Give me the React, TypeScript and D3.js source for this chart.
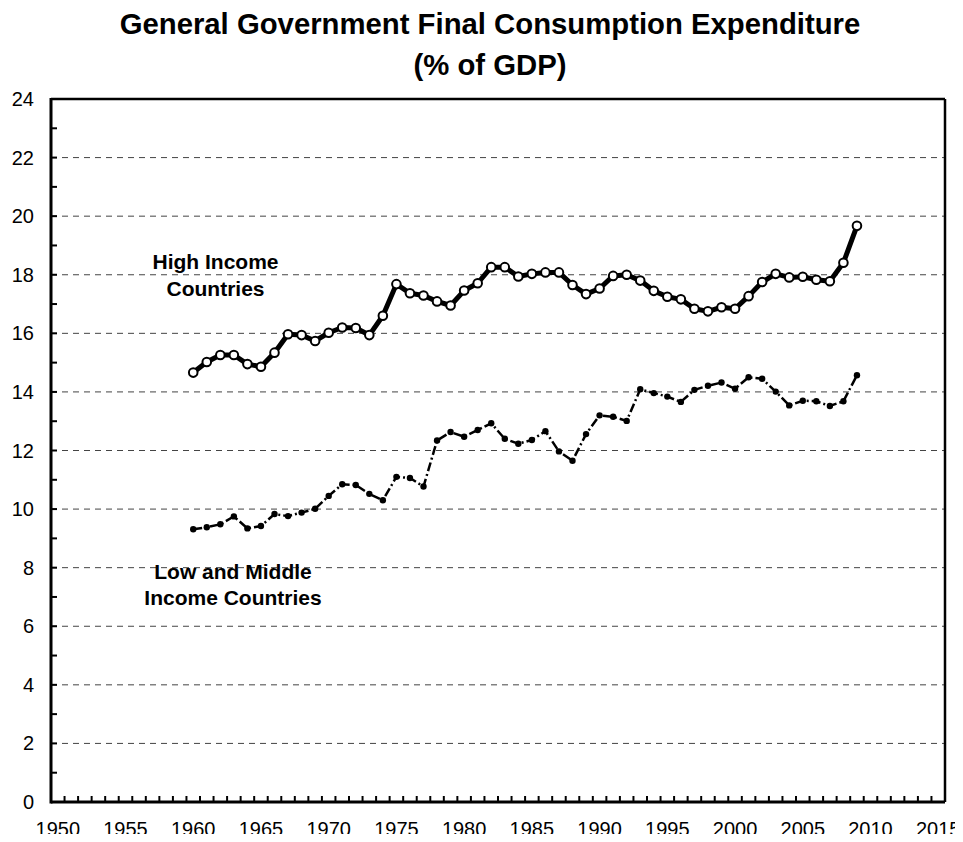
import React from 'react';
import * as d3 from 'd3';

const years = d3.range(1960, 2010);
const highIncome = [
  14.66, 15.02, 15.26, 15.26, 14.95, 14.86, 15.34, 15.97, 15.94, 15.74,
  16.02, 16.2, 16.18, 15.94, 16.6, 17.68, 17.37, 17.29, 17.09, 16.95,
  17.46, 17.71, 18.26, 18.26, 17.94, 18.03, 18.08, 18.08, 17.65, 17.34,
  17.53, 17.96, 18.0, 17.8, 17.45, 17.25, 17.16, 16.84, 16.75, 16.89,
  16.84, 17.27, 17.75, 18.03, 17.91, 17.93, 17.83, 17.78, 18.41, 19.67,
];
const lowMiddleIncome = [
  9.31, 9.38, 9.48, 9.75, 9.34, 9.42, 9.83, 9.76, 9.88, 10.01,
  10.45, 10.85, 10.82, 10.52, 10.3, 11.1, 11.06, 10.77, 12.34, 12.63,
  12.47, 12.7, 12.93, 12.4, 12.23, 12.36, 12.66, 11.97, 11.65, 12.56,
  13.2, 13.15, 13.01, 14.09, 13.96, 13.84, 13.66, 14.07, 14.21, 14.32,
  14.11, 14.5, 14.45, 14.01, 13.54, 13.7, 13.68, 13.52, 13.68, 14.57,
];
const axisYears = d3.range(1950, 2016);
const yearLabels = d3.range(1950, 2016, 5);
const yLabels = d3.range(0, 25, 2);

const font = '"Liberation Sans", Arial, sans-serif';

const App = () => {
  const width = 963;
  const height = 842;
  const margin = { top: 99, right: 18, bottom: 40, left: 51 };
  const x0 = margin.left;
  const x1 = width - margin.right;
  const yTop = margin.top;
  const yBot = height - margin.bottom;

  const xScale = d3.scaleBand<number>().domain(axisYears).range([x0, x1]);
  const cx = (yr: number) => (xScale(yr) as number) + xScale.bandwidth() / 2;
  const yScale = d3.scaleLinear().domain([0, 24]).range([yBot, yTop]);

  const line = d3.line<number>()
    .x((d, i) => cx(years[i]))
    .y(d => yScale(d));

  return (
    <svg width={width} height={height} style={{ display: 'block', margin: '-8px' }}>
      <rect width={width} height={height} fill="#fff" />
      <text x={490} y={34} textAnchor="middle" fontFamily={font} fontWeight="bold" fontSize={29.3}>
        General Government Final Consumption Expenditure
      </text>
      <text x={490} y={75} textAnchor="middle" fontFamily={font} fontWeight="bold" fontSize={29.3}>
        (% of GDP)
      </text>

      {/* gridlines */}
      {yLabels.filter(v => v > 0 && v < 24).map(v => (
        <line key={v} x1={x0} x2={x1} y1={yScale(v)} y2={yScale(v)}
          stroke="#444" strokeWidth={1} strokeDasharray="6,5" />
      ))}

      {/* frame */}
      <line x1={x0} x2={x1} y1={yTop} y2={yTop} stroke="#000" strokeWidth={2.5} />
      <line x1={x1} x2={x1} y1={yTop} y2={yBot} stroke="#000" strokeWidth={2.5} />
      <line x1={x0} x2={x0} y1={yTop - 1} y2={yBot + 1.5} stroke="#000" strokeWidth={3} />
      <line x1={x0} x2={x1} y1={yBot} y2={yBot} stroke="#000" strokeWidth={3} />

      {/* y ticks */}
      {d3.range(1, 24).map(v => (
        <line key={v} x1={x0} x2={x0 + 6} y1={yScale(v)} y2={yScale(v)} stroke="#000" strokeWidth={2} />
      ))}
      {yLabels.map(v => (
        <text key={v} x={34} y={yScale(v) + 7} textAnchor="end" fontFamily={font} fontSize={20}>{v}</text>
      ))}

      {/* x ticks */}
      {axisYears.slice(1).map(yr => (
        <line key={yr} x1={xScale(yr)} x2={xScale(yr)} y1={yBot} y2={yBot - 6} stroke="#000" strokeWidth={2} />
      ))}
      {yearLabels.map(yr => (
        <text key={yr} x={cx(yr)} y={836} textAnchor="middle" fontFamily={font} fontSize={20}>{yr}</text>
      ))}

      {/* low & middle income */}
      <path d={line(lowMiddleIncome) || ''} fill="none" stroke="#000" strokeWidth={2.5}
        strokeDasharray="9,3,2,3" />
      {lowMiddleIncome.map((v, i) => (
        <circle key={i} cx={cx(years[i])} cy={yScale(v)} r={3.2} fill="#000" />
      ))}

      {/* high income */}
      <path d={line(highIncome) || ''} fill="none" stroke="#000" strokeWidth={5} strokeLinejoin="round" />
      {highIncome.map((v, i) => (
        <circle key={i} cx={cx(years[i])} cy={yScale(v)} r={4.3} fill="#fff" stroke="#000" strokeWidth={2} />
      ))}

      <text fontFamily={font} fontWeight="bold" fontSize={21} textAnchor="middle">
        <tspan x={215.5} y={269}>High Income</tspan>
        <tspan x={215.5} y={296}>Countries</tspan>
      </text>
      <text fontFamily={font} fontWeight="bold" fontSize={21} textAnchor="middle">
        <tspan x={233} y={579}>Low and Middle</tspan>
        <tspan x={233} y={605}>Income Countries</tspan>
      </text>
    </svg>
  );
};

export default App;
